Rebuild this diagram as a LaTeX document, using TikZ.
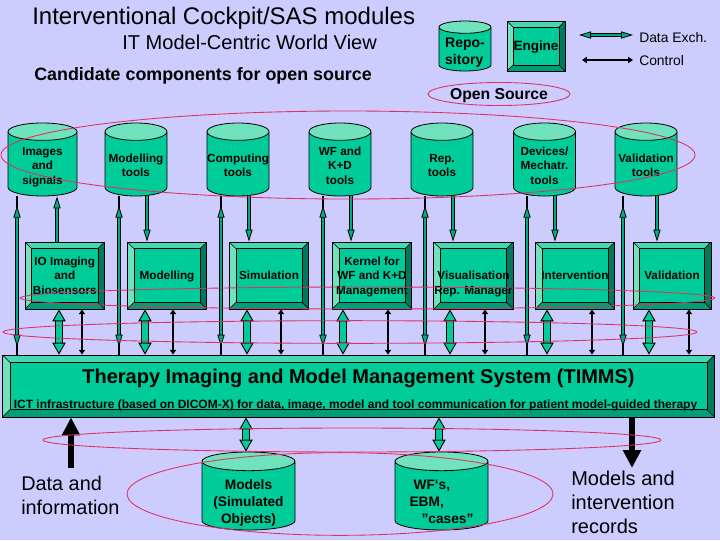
\documentclass[tikz,border=0pt]{standalone}
\usepackage{xcolor}
\usepackage{fontspec}
\setmainfont{Liberation Sans}
\usetikzlibrary{shapes.geometric, arrows.meta, calc}
\definecolor{slidebg}{RGB}{204, 204, 255}
\definecolor{toolgreen}{RGB}{0, 204, 153}
\definecolor{palegreen}{RGB}{112, 226, 190}
\definecolor{lightgreen}{RGB}{70, 216, 178}
\definecolor{lowgreen}{RGB}{0, 158, 118}
\definecolor{darkgreen}{RGB}{0, 122, 92}
\definecolor{ringred}{RGB}{222, 50, 96}
\newcommand{\cyltext}[2][c]{\makebox[20pt]{\begin{tabular}[c]{@{}#1@{}}#2\end{tabular}}}
\tikzset{
    toolcyl/.style={
        draw=black, line width=.6pt, cylinder, shape border rotate=90,
        cylinder uses custom fill, cylinder body fill=toolgreen, cylinder end fill=palegreen,
        anchor=shape center, inner sep=0pt, aspect=.65, text height=14.25pt, text depth=5.75pt,
        minimum width=46.5pt, minimum height=54.75pt,
        font=\bfseries\fontsize{8.8}{10.9}\selectfont
    },
    bevel/.store in=\bevelsize,
    bevel=6.5,
    bevelbox/.style={
        draw=black, line width=.6pt, fill=toolgreen, inner sep=0pt, align=center, text depth=0pt,
        minimum width=59.5pt, minimum height=50.25pt,
        font=\bfseries\fontsize{8.8}{10.9}\selectfont,
        path picture={
            \coordinate (bnw) at (path picture bounding box.north west);
            \coordinate (bne) at (path picture bounding box.north east);
            \coordinate (bse) at (path picture bounding box.south east);
            \coordinate (bsw) at (path picture bounding box.south west);
            \coordinate (inw) at ($(bnw)+(\bevelsize,\bevelsize)$);
            \coordinate (ine) at ($(bne)+(-\bevelsize,\bevelsize)$);
            \coordinate (ise) at ($(bse)+(-\bevelsize,-\bevelsize)$);
            \coordinate (isw) at ($(bsw)+(\bevelsize,-\bevelsize)$);
            \fill[lightgreen] (bnw) -- (bne) -- (ine) -- (inw) -- cycle;
            \fill[palegreen] (bnw) -- (bsw) -- (isw) -- (inw) -- cycle;
            \fill[darkgreen] (bne) -- (bse) -- (ise) -- (ine) -- cycle;
            \fill[lowgreen] (bsw) -- (bse) -- (ise) -- (isw) -- cycle;
            \draw[line width=.5pt] (inw) -- (ine) -- (ise) -- (isw) -- cycle;
            \draw[line width=.4pt] (bnw) -- (inw) (bne) -- (ine) (bse) -- (ise) (bsw) -- (isw);
        }
    },
    thinarrow/.style={
        line width=.6pt, double=toolgreen!85!black, double distance=1.9pt,
        {Triangle[length=9pt, width=5.4pt, fill=toolgreen!85!black, line width=.6pt]}-{Triangle[length=9pt, width=5.4pt, fill=toolgreen!85!black, line width=.6pt]}
    },
    thindown/.style={
        line width=.6pt, double=toolgreen!85!black, double distance=1.9pt,
        -{Triangle[length=9pt, width=5.4pt, fill=toolgreen!85!black, line width=.6pt]}
    },
    widearrow/.style={
        line width=.7pt, double=toolgreen, double distance=4.6pt,
        {Triangle[length=9pt, width=10pt, fill=toolgreen, line width=.7pt]}-{Triangle[length=9pt, width=10pt, fill=toolgreen, line width=.7pt]}
    },
    ctrlarrow/.style={
        line width=2.2pt,
        {Triangle[length=3.6pt, width=4.6pt]}-{Triangle[length=3.6pt, width=4.6pt]}
    },
    bigarrow/.style={
        line width=4.6pt,
        -{Triangle[length=13.5pt, width=13pt]}
    },
    redring/.style={
        draw=ringred, line width=.65pt, ellipse, inner sep=0pt
    }
}
\begin{document}
\begin{tikzpicture}[x=.75pt, y=-.75pt]
    \useasboundingbox (0,0) rectangle (720,540);
    \fill[slidebg] (0,0) rectangle (720,540);

    \node[anchor=west, inner sep=0pt, font=\fontsize{18}{22}\selectfont] (maintitle) at (32,18) {Interventional Cockpit/SAS modules};
    \node[anchor=west, inner sep=0pt, font=\fontsize{15.05}{19}\selectfont] (subtitle) at (122,42.5) {IT Model-Centric World View};
    \node[anchor=west, inner sep=0pt, font=\bfseries\fontsize{13.4}{16}\selectfont] (candidates) at (34,76) {Candidate components for open source};

    \node[toolcyl, minimum width=39pt, minimum height=37.5pt, aspect=.46, text height=15pt, text depth=5pt, font=\bfseries\fontsize{10.5}{12.8}\selectfont] (repo) at (465,46) {\cyltext[l]{Repo-\\sitory}};
    \node[bevelbox, bevel=6, minimum width=43.5pt, minimum height=37.5pt, font=\bfseries\fontsize{10.1}{12}\selectfont] (engine) at (536,46) {Engine};
    \coordinate (dataleft) at (579,35);
    \coordinate (dataright) at (633,35);
    \coordinate (ctrlleft) at (582,60);
    \coordinate (ctrlright) at (633,60);
    \draw[thinarrow] (dataleft) -- (dataright);
    \draw[ctrlarrow] (ctrlleft) -- (ctrlright);
    \node[anchor=west, inner sep=0pt, font=\fontsize{10.4}{12}\selectfont] (dataexch) at (639,38) {Data Exch.};
    \node[anchor=west, inner sep=0pt, font=\fontsize{10.4}{12}\selectfont] (control) at (639,61) {Control};
    \node[
        redring,
        minimum width=106.5pt,
        minimum height=17.25pt,
        text depth=0pt,
        font=\bfseries\fontsize{11.8}{14}\selectfont
    ] (opensource) at (499,94) {Open Source};

    \node[toolcyl, minimum width=51.75pt] (imagetools) at (42.5,159.5) {\cyltext{Images\\and\\signals}};
    \node[toolcyl] (modeltools) at (136,159.5) {\cyltext{Modelling\\tools}};
    \node[toolcyl] (comptools) at (238,159.5) {\cyltext{Computing\\tools}};
    \node[toolcyl] (wftools) at (340,159.5) {\cyltext{WF and\\K+D\\tools}};
    \node[toolcyl] (reptools) at (442,159.5) {\cyltext{Rep.\\tools}};
    \node[toolcyl] (devtools) at (544.5,159.5) {\cyltext{Devices/\\Mechatr.\\tools}};
    \node[toolcyl] (valtools) at (646,159.5) {\cyltext{Validation\\tools}};

    \node[bevelbox] (iobox) at (64.75,275.5) {IO Imaging\\and\\Biosensors};
    \node[bevelbox] (modelbox) at (167,275.5) {Modelling};
    \node[bevelbox] (simbox) at (269,275.5) {Simulation};
    \node[bevelbox] (kernelbox) at (372,275.5) {Kernel for\\WF and K+D\\Management};
    \node[bevelbox] (visbox) at (473.5,275.5) {\phantom{X}\\Visualisation\\Rep. Manager};
    \node[bevelbox] (intbox) at (575,275.5) {Intervention};
    \node[bevelbox, minimum width=58.5pt] (valbox) at (672,275.5) {Validation};

    \node[bevelbox, bevel=7.5, minimum width=534pt, minimum height=46.5pt] (bus) at (358.6,386) {};
    \node[font=\bfseries\fontsize{15}{18}\selectfont] (bustitle) at (358.5,378) {Therapy Imaging and Model Management System (TIMMS)};
    \node[font=\bfseries\fontsize{9}{11}\selectfont] (busnote) at (355.5,405) {ICT infrastructure (based on DICOM-X) for data, image, model and tool communication for patient model-guided therapy};

    \node[toolcyl, minimum width=69.75pt, minimum height=58.5pt, aspect=.7, text height=18pt, text depth=2pt, font=\bfseries\fontsize{10.3}{12.4}\selectfont] (simobjects) at (248.5,491) {\cyltext{Models\\(Simulated\\Objects)}};
    \node[toolcyl, minimum width=69.75pt, minimum height=58.5pt, aspect=.7, text height=18pt, text depth=2pt, font=\bfseries\fontsize{10.3}{12.4}\selectfont] (cases) at (441.5,491) {\cyltext[l]{\hspace*{3pt}WF`s,\\EBM,\\\hspace*{9pt}”cases”}};
    \coordinate (datain) at (71,468);
    \coordinate (recordsout) at (632,468);
    \node[anchor=north west, inner sep=0pt, align=left, font=\fontsize{14.9}{18}\selectfont] (datalabel) at (21,476) {Data and\\information};
    \node[anchor=north west, inner sep=0pt, align=left, font=\fontsize{15}{18}\selectfont] (recordslabel) at (571,471) {Models and\\intervention\\records};

    \draw[thindown] (57,0 |- iobox.north) -- (57,0 |- imagetools.south);
    \draw[thindown] (147,0 |- modeltools.south) -- (147,0 |- modelbox.north);
    \draw[thindown] (249,0 |- comptools.south) -- (249,0 |- simbox.north);
    \draw[thindown] (351,0 |- wftools.south) -- (351,0 |- kernelbox.north);
    \draw[thindown] (453,0 |- reptools.south) -- (453,0 |- visbox.north);
    \draw[thindown] (555,0 |- devtools.south) -- (555,0 |- intbox.north);
    \draw[thindown] (657,0 |- valtools.south) -- (657,0 |- valbox.north);

    \draw[line width=1.9pt] (17,0 |- imagetools.south) -- (17,0 |- bus.north);
    \draw[line width=1.9pt] (119,0 |- modeltools.south) -- (119,0 |- bus.north);
    \draw[line width=1.9pt] (221,0 |- comptools.south) -- (221,0 |- bus.north);
    \draw[line width=1.9pt] (323,0 |- wftools.south) -- (323,0 |- bus.north);
    \draw[line width=1.9pt] (425,0 |- reptools.south) -- (425,0 |- bus.north);
    \draw[line width=1.9pt] (527,0 |- devtools.south) -- (527,0 |- bus.north);
    \draw[line width=1.9pt] (623,0 |- valtools.south) -- (623,0 |- bus.north);
    \draw[thinarrow, shorten <=7pt, shorten >=6pt] (17,0 |- imagetools.south) -- (17,0 |- bus.north);
    \draw[thinarrow, shorten <=7pt, shorten >=6pt] (119,0 |- modeltools.south) -- (119,0 |- bus.north);
    \draw[thinarrow, shorten <=7pt, shorten >=6pt] (221,0 |- comptools.south) -- (221,0 |- bus.north);
    \draw[thinarrow, shorten <=7pt, shorten >=6pt] (323,0 |- wftools.south) -- (323,0 |- bus.north);
    \draw[thinarrow, shorten <=7pt, shorten >=6pt] (425,0 |- reptools.south) -- (425,0 |- bus.north);
    \draw[thinarrow, shorten <=7pt, shorten >=6pt] (527,0 |- devtools.south) -- (527,0 |- bus.north);
    \draw[thinarrow, shorten <=7pt, shorten >=6pt] (623,0 |- valtools.south) -- (623,0 |- bus.north);

    \draw[widearrow] (59,0 |- iobox.south) -- (59,0 |- bus.north);
    \draw[widearrow] (145,0 |- modelbox.south) -- (145,0 |- bus.north);
    \draw[widearrow] (247,0 |- simbox.south) -- (247,0 |- bus.north);
    \draw[widearrow] (343,0 |- kernelbox.south) -- (343,0 |- bus.north);
    \draw[widearrow] (450,0 |- visbox.south) -- (450,0 |- bus.north);
    \draw[widearrow] (547,0 |- intbox.south) -- (547,0 |- bus.north);
    \draw[widearrow] (649,0 |- valbox.south) -- (649,0 |- bus.north);

    \draw[ctrlarrow] (82,0 |- iobox.south) -- (82,0 |- bus.north);
    \draw[ctrlarrow] (173,0 |- modelbox.south) -- (173,0 |- bus.north);
    \draw[ctrlarrow] (281,0 |- simbox.south) -- (281,0 |- bus.north);
    \draw[ctrlarrow] (388,0 |- kernelbox.south) -- (388,0 |- bus.north);
    \draw[ctrlarrow] (485,0 |- visbox.south) -- (485,0 |- bus.north);
    \draw[ctrlarrow] (592,0 |- intbox.south) -- (592,0 |- bus.north);
    \draw[ctrlarrow] (689,0 |- valbox.south) -- (689,0 |- bus.north);

    \draw[widearrow] (246,0 |- bus.south) -- (246,0 |- simobjects.north);
    \draw[widearrow] (439,0 |- bus.south) -- (439,0 |- cases.north);
    \draw[bigarrow] (datain) -- (71,0 |- bus.south);
    \draw[bigarrow] (632,0 |- bus.south) -- (recordsout);

    \node[redring, minimum width=520.5pt, minimum height=66pt] (ringtools) at (348,155) {};
    \node[redring, minimum width=521pt, minimum height=16.5pt] (ringboxes) at (367.5,298) {};
    \node[redring, minimum width=520.5pt, minimum height=17pt] (ringbus) at (350,332) {};
    \node[redring, minimum width=463.5pt, minimum height=18pt] (ringlower) at (352,440) {};
    \node[redring, minimum width=319.5pt, minimum height=62pt] (ringdata) at (340,494) {};
\end{tikzpicture}
\end{document}
